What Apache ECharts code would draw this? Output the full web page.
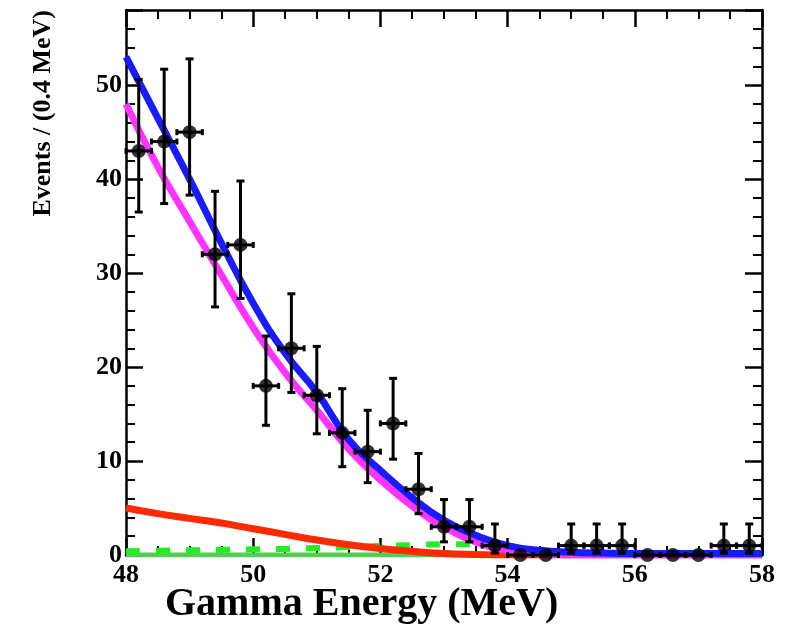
<!DOCTYPE html>
<html>
<head>
<meta charset="utf-8">
<script src="https://cdn.jsdelivr.net/npm/echarts@6/dist/echarts.min.js"></script>
<style>html,body{margin:0;padding:0;background:#fff}#c{width:799px;height:640px}</style>
</head>
<body>
<div id="c"></div>
<script>
// ---- data ----
const binCenters = [48.2, 48.6, 49.0, 49.4, 49.8, 50.2, 50.6, 51.0, 51.4, 51.8, 52.2, 52.6, 53.0, 53.4, 53.8, 54.2, 54.6, 55.0, 55.4, 55.8, 56.2, 56.6, 57.0, 57.4, 57.8];
const counts     = [43, 44, 45, 32, 33, 18, 22, 17, 13, 11, 14, 7, 3, 3, 1, 0, 0, 1, 1, 1, 0, 0, 0, 1, 1];
const errLow     = [36.5, 37.4, 38.3, 26.4, 27.3, 13.8, 17.3, 12.9, 9.4, 7.7, 10.2, 4.4, 1.4, 1.4, 0.2, 0, 0, 0.2, 0.2, 0.2, 0, 0, 0, 0.2, 0.2];
const errHigh    = [50.6, 51.7, 52.8, 38.7, 39.8, 23.3, 27.8, 22.2, 17.7, 15.4, 18.8, 10.8, 5.9, 5.9, 3.3, 0, 0, 3.3, 3.3, 3.3, 0, 0, 0, 3.3, 3.3];
const binHalfWidth = 0.2;

const curveX      = [48, 48.5, 49, 49.5, 50, 50.5, 51, 51.5, 52, 52.5, 53, 53.5, 54, 54.5, 55, 55.5, 56, 56.5, 57, 57.5, 58];
const totalFit    = [53, 46.5, 40, 33.2, 26.8, 21.5, 17.3, 12.3, 9.0, 6.1, 3.7, 2.1, 1.0, 0.5, 0.3, 0.2, 0.15, 0.15, 0.15, 0.15, 0.15];
const signalFit   = [48, 41.3, 35.5, 29.8, 24.2, 19.4, 15.4, 11.3, 8.0, 5.2, 3.0, 1.4, 0.5, 0.15, 0, 0, 0, 0, 0, 0, 0];
const redBkg      = [5.0, 4.4, 3.9, 3.4, 2.8, 2.2, 1.6, 1.1, 0.7, 0.4, 0.15, 0.05, 0, 0, 0, 0, 0, 0, 0, 0, 0];
const greenDashed = [0.4, 0.45, 0.5, 0.55, 0.6, 0.65, 0.75, 0.85, 0.95, 1.05, 1.15, 1.15, 0];
const greenSolid  = [0, 0, 0, 0, 0, 0, 0, 0, 0, 0, 0, 0, 0, 0, 0, 0, 0, 0, 0, 0, 0];

const xTitle = 'Gamma Energy (MeV)';
const yTitle = 'Events / (0.4 MeV)';

// ---- build ----
const pairs = (xs, ys) => ys.map((y, i) => [xs[i], y]);
const pts = binCenters.map((x, i) => [x, counts[i], errLow[i], errHigh[i]]);
const FONT = 'Liberation Serif';

const axisCommon = {
  type: 'value',
  axisLine: {show: true, onZero: false, lineStyle: {color: '#000', width: 2.5}},
  axisTick: {show: true, inside: true, length: 17, lineStyle: {color: '#000', width: 2.5}},
  minorTick: {show: true, length: 9, lineStyle: {color: '#000', width: 2}},
  splitLine: {show: false},
};

const chart = echarts.init(document.getElementById('c'), null, {renderer: 'canvas'});
chart.setOption({
  animation: false,
  backgroundColor: '#fff',
  grid: {left: 126, right: 37, top: 10, bottom: 85, containLabel: false},
  xAxis: [
    Object.assign({}, axisCommon, {
      position: 'bottom', min: 48, max: 58, interval: 2,
      minorTick: Object.assign({}, axisCommon.minorTick, {splitNumber: 4}),
      axisLabel: {show: true, margin: 7, color: '#000', fontFamily: FONT, fontWeight: 'bold', fontSize: 26}
    }),
    Object.assign({}, axisCommon, {
      position: 'top', min: 48, max: 58, interval: 2,
      minorTick: Object.assign({}, axisCommon.minorTick, {splitNumber: 4}),
      axisLabel: {show: false}
    })
  ],
  yAxis: [
    Object.assign({}, axisCommon, {
      position: 'left', min: 0, max: 58, interval: 10,
      minorTick: Object.assign({}, axisCommon.minorTick, {splitNumber: 5}),
      axisLabel: {show: true, margin: 4, showMaxLabel: false, color: '#000', fontFamily: FONT, fontWeight: 'bold', fontSize: 26}
    }),
    Object.assign({}, axisCommon, {
      position: 'right', min: 0, max: 58, interval: 10,
      minorTick: Object.assign({}, axisCommon.minorTick, {splitNumber: 5}),
      axisLabel: {show: false}
    })
  ],
  title: {
    text: xTitle, left: 160, top: 580,
    textStyle: {fontFamily: FONT, fontWeight: 'bold', fontSize: 40, color: '#000'}
  },
  graphic: [{
    type: 'text', x: 43, y: 10, rotation: Math.PI / 2,
    style: {text: yTitle, fill: '#000', font: 'bold 26px "Liberation Serif"', align: 'right', verticalAlign: 'middle'}
  }],
  series: [
    {type: 'line', name: 'greenSolid', data: pairs(curveX, greenSolid), showSymbol: false, z: 2,
     lineStyle: {color: '#55cc55', width: 5}},
    {type: 'line', name: 'greenDashed', data: pairs(curveX, greenDashed), showSymbol: false, z: 2, smooth: true,
     lineStyle: {color: '#22ee22', width: 6, type: [14, 16]}},
    {type: 'line', name: 'red', data: pairs(curveX, redBkg), showSymbol: false, z: 3, smooth: true,
     lineStyle: {color: '#ff2a00', width: 7}},
    {type: 'line', name: 'signal', data: pairs(curveX, signalFit), showSymbol: false, z: 4, smooth: true,
     lineStyle: {color: '#ff33ff', width: 7}},
    {type: 'line', name: 'total', data: pairs(curveX, totalFit), showSymbol: false, z: 5, smooth: true,
     lineStyle: {color: '#1a1aff', width: 7}},
    {type: 'custom', name: 'errors', z: 6, data: pts,
     renderItem: function (params, api) {
       const x = api.value(0), y = api.value(1), lo = api.value(2), hi = api.value(3);
       const L = api.coord([x - binHalfWidth, y]);
       const R = api.coord([x + binHalfWidth, y]);
       const st = {stroke: '#000', lineWidth: 3};
       const ch = [
         {type: 'line', shape: {x1: L[0], y1: L[1], x2: R[0], y2: R[1]}, style: st},
         {type: 'line', shape: {x1: L[0], y1: L[1] - 3, x2: L[0], y2: L[1] + 3}, style: st},
         {type: 'line', shape: {x1: R[0], y1: R[1] - 3, x2: R[0], y2: R[1] + 3}, style: st}
       ];
       if (hi > lo) {
         const T = api.coord([x, hi]);
         const B = api.coord([x, lo]);
         ch.push({type: 'line', shape: {x1: T[0], y1: T[1], x2: B[0], y2: B[1]}, style: st});
         ch.push({type: 'line', shape: {x1: T[0] - 4, y1: T[1], x2: T[0] + 4, y2: T[1]}, style: st});
         ch.push({type: 'line', shape: {x1: B[0] - 4, y1: B[1], x2: B[0] + 4, y2: B[1]}, style: st});
       }
       return {type: 'group', children: ch};
     }},
    {type: 'scatter', name: 'data', z: 7, data: pts.map(p => [p[0], p[1]]), symbol: 'circle', symbolSize: 14,
     itemStyle: {color: '#000'}}
  ]
});
</script>
</body>
</html>
